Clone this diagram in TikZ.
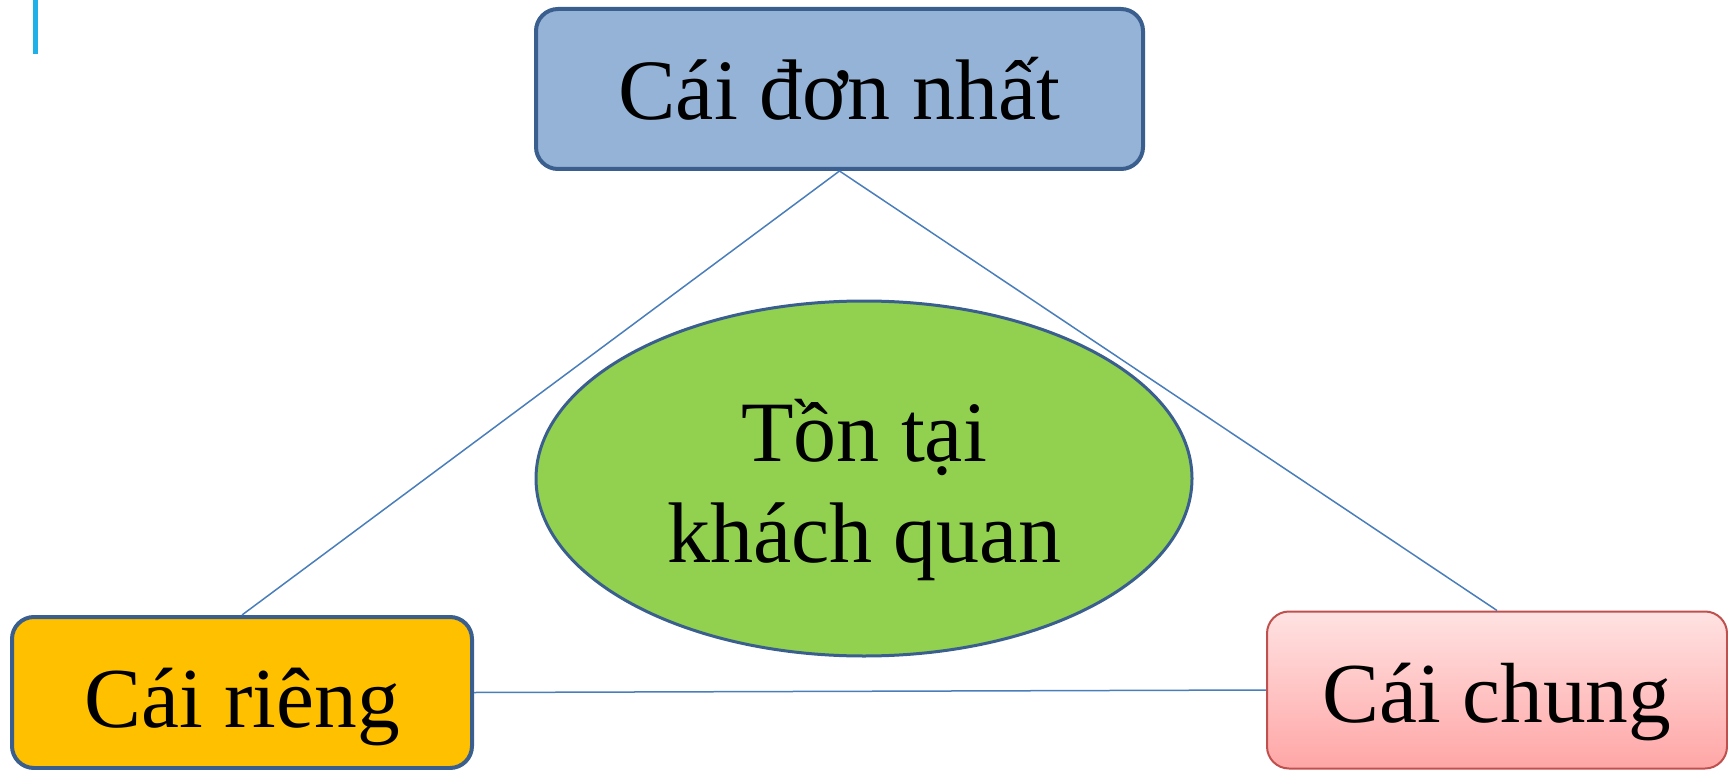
\documentclass[tikz,border=0pt]{standalone}
\usepackage{fontspec}
\setmainfont{Liberation Serif}
\usetikzlibrary{shapes.geometric}
\definecolor{boxblue}{HTML}{95B3D7}
\definecolor{edgeblue}{HTML}{3A5F8E}
\definecolor{linkblue}{HTML}{4A7EBB}
\definecolor{gold}{HTML}{FFC000}
\definecolor{leaf}{HTML}{92D050}
\definecolor{pinkedge}{HTML}{C0504D}
\definecolor{pinktop}{HTML}{FFE2E2}
\definecolor{pinkbot}{HTML}{FFA6A6}
\definecolor{barblue}{HTML}{1EB0E6}
\tikzset{
  roundbox/.style={rounded corners=11pt, line width=2pt, draw=edgeblue, align=center, inner sep=0pt, text depth=0pt},
  link/.style={draw=linkblue, line width=0.75pt},
}
\begin{document}
\begin{tikzpicture}[x=0.5pt,y=-0.5pt]
\useasboundingbox (0,0) rectangle (1728,770);
\fill[barblue] (33,0) rectangle (38,54);
\node[roundbox, fill=boxblue, minimum width=303.5pt, minimum height=80pt, text height=31pt,
  font=\fontsize{43}{50}\selectfont] (top) at (839.5,89) {Cái đơn nhất};
\node[roundbox, fill=gold, minimum width=230pt, minimum height=75.5pt, text height=34.5pt,
  font=\fontsize{42.7}{50}\selectfont] (left) at (242,692.5) {Cái riêng};
\node[roundbox, draw=pinkedge, line width=1pt, top color=pinktop, bottom color=pinkbot,
  minimum width=230pt, minimum height=78.5pt, text height=32pt,
  font=\fontsize{42.7}{50}\selectfont] (right) at (1497,690) {Cái chung};
\node[ellipse, draw=edgeblue, line width=1.5pt, fill=leaf, minimum width=328pt, minimum height=177.5pt,
  inner sep=0pt, align=center, text height=83.5pt, text depth=0pt,
  font=\fontsize{43}{50.5}\selectfont] (center) at (864,478.5) {Tồn tại\\khách quan};
\draw[link] (top.south) -- (left.north);
\draw[link] (top.south) -- (right.north);
\draw[link] (left.east) -- (right.west);
\end{tikzpicture}
\end{document}
